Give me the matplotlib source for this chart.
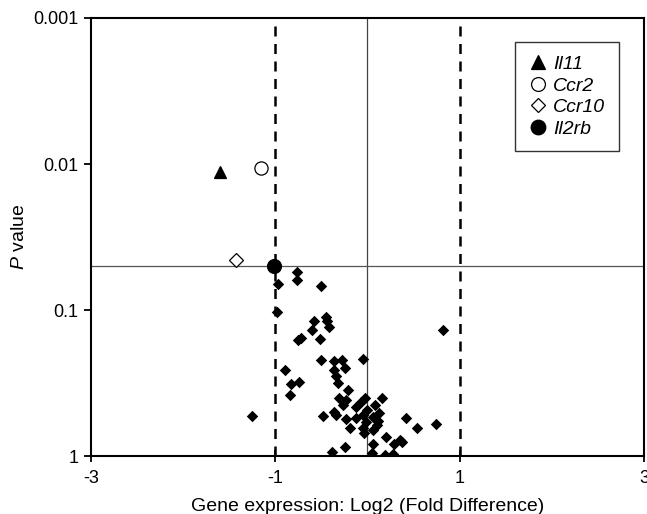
import matplotlib
matplotlib.use('Agg')
import matplotlib.pyplot as plt
import numpy as np

plt.rcParams['font.family'] = ['Liberation Sans', 'DejaVu Sans']
plt.rcParams['mathtext.fontset'] = 'custom'
plt.rcParams['mathtext.it'] = 'Liberation Sans:italic'
plt.rcParams['mathtext.rm'] = 'Liberation Sans'

# highlighted genes: (log2 fold difference, P value)
genes = ['Il11', 'Ccr2', 'Ccr10', 'Il2rb']
gene_x = [-1.60, -1.15, -1.43, -1.01]
gene_p = [0.0113, 0.0106, 0.0455, 0.050]

# all other genes
other_x = [-0.77, -0.77, -0.97, -0.50, -0.98, -0.58, -0.45, -0.44, -0.42, -0.60,
           -0.72, -0.75, -0.52, 0.82, -0.50, -0.36, -0.28, -0.05, -0.36, -0.24,
           -0.89, -0.34, -0.74, -0.83, -0.32, -0.21, -0.84, -0.31, -0.23, 0.16,
           -0.03, -0.07, -0.27, 0.08, -0.12, -0.01, -0.36, -0.34, -0.48, 0.13,
           -1.25, -0.05, 0.06, -0.23, -0.12, 0.11, 0.42, -0.02, 0.10, 0.74,
           0.54, -0.19, -0.05, 0.06, -0.04, 0.20, 0.35, 0.37, 0.29, 0.06,
           -0.24, -0.39, 0.05, 0.19, 0.28]
other_p = [0.055, 0.062, 0.066, 0.068, 0.104, 0.118, 0.111, 0.118, 0.130, 0.137,
           0.155, 0.160, 0.159, 0.137, 0.220, 0.222, 0.220, 0.218, 0.258, 0.248,
           0.256, 0.283, 0.310, 0.321, 0.318, 0.353, 0.382, 0.403, 0.413, 0.399,
           0.403, 0.425, 0.448, 0.448, 0.459, 0.484, 0.498, 0.524, 0.532, 0.511,
           0.530, 0.524, 0.538, 0.561, 0.552, 0.573, 0.547, 0.582, 0.614, 0.607,
           0.640, 0.646, 0.646, 0.664, 0.700, 0.745, 0.776, 0.798, 0.828, 0.828,
           0.863, 0.944, 0.949, 0.984, 0.968]

fig = plt.figure(figsize=(6.47, 5.14), dpi=100)
ax = fig.add_axes([0.1406, 0.1128, 0.8548, 0.8522])

ax.axvline(-1, color='black', linestyle=(0, (4, 3)), linewidth=1.8, zorder=1)
ax.axvline(1, color='black', linestyle=(0, (4, 3)), linewidth=1.8, zorder=1)
ax.axvline(0, color='#444444', linewidth=0.9, zorder=1)
ax.axhline(0.05, color='#555555', linewidth=0.9, zorder=1)

ax.scatter(other_x, other_p, marker='D', s=34, color='black', linewidths=0, zorder=3)

styles = [dict(marker='^', mfc='black', mec='black'),
          dict(marker='o', mfc='white', mec='black'),
          dict(marker='D', mfc='white', mec='black'),
          dict(marker='o', mfc='black', mec='black')]
sizes = [9, 9.5, 7, 10]
for i in range(4):
    ax.plot(gene_x[i], gene_p[i], linestyle='none', markersize=sizes[i],
            markeredgewidth=0.9, label=genes[i], zorder=4, **styles[i])

ax.set_xlim(-3, 3)
ax.set_yscale('log')
ax.set_ylim(1, 0.001)
ax.set_xticks([-3, -1, 1, 3])
ax.set_xticklabels(['-3', '-1', '1', '3'])
ax.set_yticks([0.001, 0.01, 0.1, 1])
ax.set_yticklabels(['0.001', '0.01', '0.1', '1'])
ax.yaxis.set_minor_locator(matplotlib.ticker.NullLocator())
ax.tick_params(axis='y', direction='out', length=5, width=1.3, labelsize=13, pad=4)
ax.tick_params(axis='x', direction='inout', length=8, width=1.3, labelsize=13, pad=6)
for s in ax.spines.values():
    s.set_linewidth(1.5)

ax.set_xlabel('Gene expression: Log2 (Fold Difference)', fontsize=14, labelpad=8)
ax.set_ylabel(r'$\it{P}$ value', fontsize=14, labelpad=4)

leg = ax.legend(loc='upper right', bbox_to_anchor=(0.955, 0.945), frameon=True,
                fancybox=False, edgecolor='black', fontsize=14, handletextpad=0.3,
                handlelength=1.0, borderpad=0.7, labelspacing=0.2, borderaxespad=0,
                markerscale=1.05)
leg.get_frame().set_linewidth(1.0)
for t in leg.get_texts():
    t.set_fontstyle('italic')

fig.savefig('out.png', dpi=100)
